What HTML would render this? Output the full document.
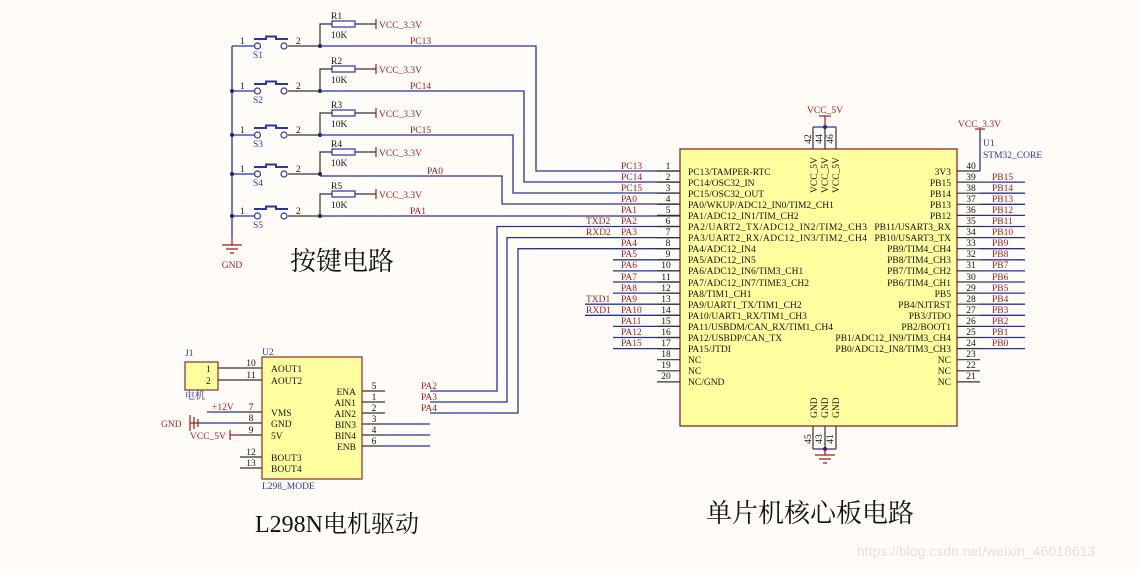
<!DOCTYPE html>
<html><head><meta charset="utf-8"><style>
html,body{margin:0;padding:0;background:#fffcf7;}
svg{display:block}
text{font-family:"Liberation Serif","Noto Serif CJK SC",serif;font-size:9.5px;}
.r{fill:#9b1c1c}.b{fill:#2a36a0}.k{fill:#111}
.nb{stroke:#24339c;stroke-width:1.3;fill:none}
.nk{stroke:#333;stroke-width:1.2;fill:none}
.nr{stroke:#9b1c1c;stroke-width:1.2;fill:none}
.end{text-anchor:end}.mid{text-anchor:middle}
</style></head><body>
<svg width="1138" height="569" viewBox="0 0 1138 569" xmlns="http://www.w3.org/2000/svg">
<line class="nb" x1="232" y1="46" x2="232" y2="236"/>
<g>
<line class="nb" x1="232" y1="46" x2="254" y2="46"/><line class="nk" x1="288" y1="46" x2="320" y2="46"/>
<circle cx="257.5" cy="46" r="3" fill="none" stroke="#2a36a0" stroke-width="1.2"/><circle cx="284" cy="46" r="3" fill="none" stroke="#2a36a0" stroke-width="1.2"/>
<path d="M254 39H266V36.5H276V39H288" stroke="#2a36a0" stroke-width="2" fill="none"/>
<text x="240" y="44" class="k">1</text><text x="296" y="44" class="k">2</text><text x="253" y="58" class="b">S1</text>
<path class="nk" d="M320 46V24H332M355 24H376"/><rect x="332" y="21" width="23" height="6" fill="none" stroke="#2a36a0" stroke-width="1.2"/>
<line class="nr" x1="376" y1="19" x2="376" y2="29"/><text x="379" y="28" class="r">VCC_3.3V</text>
<text x="331" y="19" class="k">R1</text><text x="331" y="38" class="k">10K</text>
<circle cx="320" cy="46" r="2" fill="#1a237e"/>
<line class="nb" x1="232" y1="91" x2="254" y2="91"/><line class="nk" x1="288" y1="91" x2="320" y2="91"/>
<circle cx="257.5" cy="91" r="3" fill="none" stroke="#2a36a0" stroke-width="1.2"/><circle cx="284" cy="91" r="3" fill="none" stroke="#2a36a0" stroke-width="1.2"/>
<path d="M254 84H266V81.5H276V84H288" stroke="#2a36a0" stroke-width="2" fill="none"/>
<text x="240" y="89" class="k">1</text><text x="296" y="89" class="k">2</text><text x="253" y="103" class="b">S2</text>
<path class="nk" d="M320 91V69H332M355 69H376"/><rect x="332" y="66" width="23" height="6" fill="none" stroke="#2a36a0" stroke-width="1.2"/>
<line class="nr" x1="376" y1="64" x2="376" y2="74"/><text x="379" y="73" class="r">VCC_3.3V</text>
<text x="331" y="64" class="k">R2</text><text x="331" y="83" class="k">10K</text>
<circle cx="320" cy="91" r="2" fill="#1a237e"/><circle cx="232" cy="91" r="2" fill="#1a237e"/>
<line class="nb" x1="232" y1="135" x2="254" y2="135"/><line class="nk" x1="288" y1="135" x2="320" y2="135"/>
<circle cx="257.5" cy="135" r="3" fill="none" stroke="#2a36a0" stroke-width="1.2"/><circle cx="284" cy="135" r="3" fill="none" stroke="#2a36a0" stroke-width="1.2"/>
<path d="M254 128H266V125.5H276V128H288" stroke="#2a36a0" stroke-width="2" fill="none"/>
<text x="240" y="133" class="k">1</text><text x="296" y="133" class="k">2</text><text x="253" y="147" class="b">S3</text>
<path class="nk" d="M320 135V113H332M355 113H376"/><rect x="332" y="110" width="23" height="6" fill="none" stroke="#2a36a0" stroke-width="1.2"/>
<line class="nr" x1="376" y1="108" x2="376" y2="118"/><text x="379" y="117" class="r">VCC_3.3V</text>
<text x="331" y="108" class="k">R3</text><text x="331" y="127" class="k">10K</text>
<circle cx="320" cy="135" r="2" fill="#1a237e"/><circle cx="232" cy="135" r="2" fill="#1a237e"/>
<line class="nb" x1="232" y1="174" x2="254" y2="174"/><line class="nk" x1="288" y1="174" x2="320" y2="174"/>
<circle cx="257.5" cy="174" r="3" fill="none" stroke="#2a36a0" stroke-width="1.2"/><circle cx="284" cy="174" r="3" fill="none" stroke="#2a36a0" stroke-width="1.2"/>
<path d="M254 167H266V164.5H276V167H288" stroke="#2a36a0" stroke-width="2" fill="none"/>
<text x="240" y="172" class="k">1</text><text x="296" y="172" class="k">2</text><text x="253" y="186" class="b">S4</text>
<path class="nk" d="M320 174V152H332M355 152H376"/><rect x="332" y="149" width="23" height="6" fill="none" stroke="#2a36a0" stroke-width="1.2"/>
<line class="nr" x1="376" y1="147" x2="376" y2="157"/><text x="379" y="156" class="r">VCC_3.3V</text>
<text x="331" y="147" class="k">R4</text><text x="331" y="166" class="k">10K</text>
<circle cx="320" cy="174" r="2" fill="#1a237e"/><circle cx="232" cy="174" r="2" fill="#1a237e"/>
<line class="nb" x1="232" y1="216" x2="254" y2="216"/><line class="nk" x1="288" y1="216" x2="320" y2="216"/>
<circle cx="257.5" cy="216" r="3" fill="none" stroke="#2a36a0" stroke-width="1.2"/><circle cx="284" cy="216" r="3" fill="none" stroke="#2a36a0" stroke-width="1.2"/>
<path d="M254 209H266V206.5H276V209H288" stroke="#2a36a0" stroke-width="2" fill="none"/>
<text x="240" y="214" class="k">1</text><text x="296" y="214" class="k">2</text><text x="253" y="228" class="b">S5</text>
<path class="nk" d="M320 216V194H332M355 194H376"/><rect x="332" y="191" width="23" height="6" fill="none" stroke="#2a36a0" stroke-width="1.2"/>
<line class="nr" x1="376" y1="189" x2="376" y2="199"/><text x="379" y="198" class="r">VCC_3.3V</text>
<text x="331" y="189" class="k">R5</text><text x="331" y="208" class="k">10K</text>
<circle cx="320" cy="216" r="2" fill="#1a237e"/><circle cx="232" cy="216" r="2" fill="#1a237e"/>
</g>
<path class="nr" d="M232 236V245M222 245H242M226 249H238M230 253H234"/>
<text x="232" y="268" class="r mid">GND</text>
<text x="290" y="270" style="font-size:26px;font-family:'Noto Serif CJK SC',serif" class="k">按键电路</text>

<path class="nb" d="M320 46H536V171H680"/>
<path class="nb" d="M320 91H524V182H680"/>
<path class="nb" d="M320 135H513V193H680"/>
<path class="nb" d="M320 176H502V204H680"/>
<path class="nb" d="M320 216H680"/>
<text x="410" y="44" class="r">PC13</text><text x="410" y="89" class="r">PC14</text><text x="410" y="133" class="r">PC15</text><text x="427" y="174" class="r">PA0</text><text x="410" y="214" class="r">PA1</text>
<path class="nb" d="M430 391H497V226.5H680"/>
<path class="nb" d="M430 402H507V237.6H680"/>
<path class="nb" d="M430 413H518V248.7H680"/>

<rect x="680" y="149" width="277" height="277" fill="#ffffa0" stroke="#8b2a2a" stroke-width="1.3"/>
<path class="nb" d="M613 259.8H680M613 270.9H680M613 282H680M613 293.1H680M585 304.2H680M585 315.3H680M613 326.4H680M613 337.5H680M613 348.6H680"/>
<path class="nk" d="M657 171H680M657 182.1H680M657 193.2H680M657 204.3H680M657 215.4H680M657 226.5H680M657 237.6H680M657 248.7H680M657 259.8H680M657 270.9H680M657 282H680M657 293.1H680M657 304.2H680M657 315.3H680M657 326.4H680M657 337.5H680M657 348.6H680M657 359.7H680M657 370.8H680M657 381.9H680"/>
<g class="k">
<text x="668" y="169" class="mid">1</text><text x="668" y="180" class="mid">2</text><text x="668" y="191" class="mid">3</text><text x="668" y="202" class="mid">4</text><text x="668" y="213" class="mid">5</text><text x="668" y="224" class="mid">6</text><text x="668" y="235" class="mid">7</text><text x="668" y="246" class="mid">8</text><text x="668" y="257" class="mid">9</text><text x="666" y="268" class="mid">10</text><text x="666" y="280" class="mid">11</text><text x="666" y="291" class="mid">12</text><text x="666" y="302" class="mid">13</text><text x="666" y="313" class="mid">14</text><text x="666" y="324" class="mid">15</text><text x="666" y="335" class="mid">16</text><text x="666" y="346" class="mid">17</text><text x="666" y="357" class="mid">18</text><text x="666" y="368" class="mid">19</text><text x="666" y="379" class="mid">20</text>
</g>
<g class="r">
<text x="621" y="169">PC13</text><text x="621" y="180">PC14</text><text x="621" y="191">PC15</text><text x="621" y="202">PA0</text><text x="621" y="213">PA1</text><text x="621" y="224">PA2</text><text x="621" y="235">PA3</text><text x="621" y="246">PA4</text><text x="621" y="257">PA5</text><text x="621" y="268">PA6</text><text x="621" y="280">PA7</text><text x="621" y="291">PA8</text><text x="621" y="302">PA9</text><text x="621" y="313">PA10</text><text x="621" y="324">PA11</text><text x="621" y="335">PA12</text><text x="621" y="346">PA15</text>
<text x="586" y="224">TXD2</text><text x="586" y="235">RXD2</text><text x="586" y="302">TXD1</text><text x="586" y="313">RXD1</text>
</g>
<g class="k">
<text x="688" y="175">PC13/TAMPER-RTC</text><text x="688" y="186">PC14/OSC32_IN</text><text x="688" y="197">PC15/OSC32_OUT</text><text x="688" y="208">PA0/WKUP/ADC12_IN0/TIM2_CH1</text><text x="688" y="219">PA1/ADC12_IN1/TIM_CH2</text><text x="688" y="230" textLength="179">PA2/UART2_TX/ADC12_IN2/TIM2_CH3</text><text x="688" y="241" textLength="179">PA3/UART2_RX/ADC12_IN3/TIM2_CH4</text><text x="688" y="252">PA4/ADC12_IN4</text><text x="688" y="263">PA5/ADC12_IN5</text><text x="688" y="274">PA6/ADC12_IN6/TIM3_CH1</text><text x="688" y="286">PA7/ADC12_IN7/TIME3_CH2</text><text x="688" y="297">PA8/TIM1_CH1</text><text x="688" y="308">PA9/UART1_TX/TIM1_CH2</text><text x="688" y="319">PA10/UART1_RX/TIM1_CH3</text><text x="688" y="330">PA11/USBDM/CAN_RX/TIM1_CH4</text><text x="688" y="341">PA12/USBDP/CAN_TX</text><text x="688" y="352">PA15/JTDI</text><text x="688" y="363">NC</text><text x="688" y="374">NC</text><text x="688" y="385">NC/GND</text>
</g>
<g class="k end">
<text x="951" y="175">3V3</text><text x="951" y="186">PB15</text><text x="951" y="197">PB14</text><text x="951" y="208">PB13</text><text x="951" y="219">PB12</text><text x="951" y="230">PB11/USART3_RX</text><text x="951" y="241">PB10/USART3_TX</text><text x="951" y="252">PB9/TIM4_CH4</text><text x="951" y="263">PB8/TIM4_CH3</text><text x="951" y="274">PB7/TIM4_CH2</text><text x="951" y="286">PB6/TIM4_CH1</text><text x="951" y="297">PB5</text><text x="951" y="308">PB4/NJTRST</text><text x="951" y="319">PB3/JTDO</text><text x="951" y="330">PB2/BOOT1</text><text x="951" y="341">PB1/ADC12_IN9/TIM3_CH4</text><text x="951" y="352">PB0/ADC12_IN8/TIM3_CH3</text><text x="951" y="363">NC</text><text x="951" y="374">NC</text><text x="951" y="385">NC</text>
</g>
<path class="nk" d="M957 171H980M957 182.1H980M957 193.2H980M957 204.3H980M957 215.4H980M957 226.5H980M957 237.6H980M957 248.7H980M957 259.8H980M957 270.9H980M957 282H980M957 293.1H980M957 304.2H980M957 315.3H980M957 326.4H980M957 337.5H980M957 348.6H980M957 359.7H980M957 370.8H980M957 381.9H980"/>
<path class="nb" d="M980 182.1H1025M980 193.2H1025M980 204.3H1025M980 215.4H1025M980 226.5H1025M980 237.6H1025M980 248.7H1025M980 259.8H1025M980 270.9H1025M980 282H1025M980 293.1H1025M980 304.2H1025M980 315.3H1025M980 326.4H1025M980 337.5H1025M980 348.6H1025"/>
<path class="nb" d="M980 171V129"/>
<line class="nr" x1="975" y1="129" x2="985" y2="129"/>
<text x="958" y="127" class="r">VCC_3.3V</text>
<text x="983" y="146" class="b">U1</text><text x="983" y="158" class="b">STM32_CORE</text>
<g class="k">
<text x="971" y="169" class="mid">40</text><text x="971" y="180" class="mid">39</text><text x="971" y="191" class="mid">38</text><text x="971" y="202" class="mid">37</text><text x="971" y="213" class="mid">36</text><text x="971" y="224" class="mid">35</text><text x="971" y="235" class="mid">34</text><text x="971" y="246" class="mid">33</text><text x="971" y="257" class="mid">32</text><text x="971" y="268" class="mid">31</text><text x="971" y="280" class="mid">30</text><text x="971" y="291" class="mid">29</text><text x="971" y="302" class="mid">28</text><text x="971" y="313" class="mid">27</text><text x="971" y="324" class="mid">26</text><text x="971" y="335" class="mid">25</text><text x="971" y="346" class="mid">24</text><text x="971" y="357" class="mid">23</text><text x="971" y="368" class="mid">22</text><text x="971" y="379" class="mid">21</text>
</g>
<g class="r">
<text x="992" y="180">PB15</text><text x="992" y="191">PB14</text><text x="992" y="202">PB13</text><text x="992" y="213">PB12</text><text x="992" y="224">PB11</text><text x="992" y="235">PB10</text><text x="992" y="246">PB9</text><text x="992" y="257">PB8</text><text x="992" y="268">PB7</text><text x="992" y="280">PB6</text><text x="992" y="291">PB5</text><text x="992" y="302">PB4</text><text x="992" y="313">PB3</text><text x="992" y="324">PB2</text><text x="992" y="335">PB1</text><text x="992" y="346">PB0</text>
</g>
<path class="nk" d="M813 127V149M825 127V149M836 127V149"/>
<path class="nb" d="M813 127H836"/>
<circle cx="825" cy="127" r="2" fill="#1a237e"/>
<line class="nr" x1="825" y1="127" x2="825" y2="116"/>
<line class="nr" x1="819" y1="116" x2="831" y2="116"/>
<text x="825" y="113" class="r mid">VCC_5V</text>
<g class="k">
<text transform="translate(811,139) rotate(-90)" class="mid">42</text>
<text transform="translate(822,139) rotate(-90)" class="mid">44</text>
<text transform="translate(833,139) rotate(-90)" class="mid">46</text>
<text transform="translate(817,193) rotate(-90)">VCC_5V</text>
<text transform="translate(828,193) rotate(-90)">VCC_5V</text>
<text transform="translate(839,193) rotate(-90)">VCC_5V</text>
<text transform="translate(817,418) rotate(-90)">GND</text>
<text transform="translate(828,418) rotate(-90)">GND</text>
<text transform="translate(839,418) rotate(-90)">GND</text>
<text transform="translate(811,439) rotate(-90)" class="mid">45</text>
<text transform="translate(822,439) rotate(-90)" class="mid">43</text>
<text transform="translate(833,439) rotate(-90)" class="mid">41</text>
</g>
<path class="nk" d="M813 426V449M825 426V449M836 426V449"/>
<path class="nb" d="M813 449H836"/>
<circle cx="825" cy="449" r="2" fill="#1a237e"/>
<path class="nr" d="M825 449V455M815 455H835M819 459H831M823 463H827"/>
<text x="706" y="522" style="font-size:26px;font-family:'Noto Serif CJK SC',serif" class="k">单片机核心板电路</text>

<rect x="262" y="357" width="100" height="122" fill="#ffffa0" stroke="#8b2a2a" stroke-width="1.2"/>
<text x="262" y="355" class="b">U2</text>
<text x="262" y="489" class="b">L298_MODE</text>
<rect x="185" y="362" width="33" height="28" fill="#ffffa0" stroke="#8b2a2a" stroke-width="1.2"/>
<text x="185" y="356" class="b">J1</text>
<text x="185" y="399" class="b" style="font-family:'Noto Serif CJK SC',serif;font-size:10px">电机</text>
<text x="206" y="372" class="k">1</text><text x="206" y="384" class="k">2</text>
<path class="nk" d="M218 368H262M218 380H262M240 412H262M240 423H262M240 435H262M240 457H262M240 468H262"/>
<g class="k">
<text x="251" y="366" class="mid">10</text><text x="251" y="378" class="mid">11</text><text x="251" y="410" class="mid">7</text><text x="251" y="421" class="mid">8</text><text x="251" y="433" class="mid">9</text><text x="251" y="455" class="mid">12</text><text x="251" y="466" class="mid">13</text>
<text x="271" y="372">AOUT1</text><text x="271" y="384">AOUT2</text><text x="271" y="416">VMS</text><text x="271" y="427">GND</text><text x="271" y="439">5V</text><text x="271" y="461">BOUT3</text><text x="271" y="472">BOUT4</text>
<text x="356" y="395" class="end">ENA</text><text x="356" y="406" class="end">AIN1</text><text x="356" y="417" class="end">AIN2</text><text x="356" y="428" class="end">BIN3</text><text x="356" y="439" class="end">BIN4</text><text x="356" y="450" class="end">ENB</text>
<text x="374" y="389" class="mid">5</text><text x="374" y="400" class="mid">1</text><text x="374" y="411" class="mid">2</text><text x="374" y="422" class="mid">3</text><text x="374" y="433" class="mid">4</text><text x="374" y="444" class="mid">6</text>
</g>
<path class="nk" d="M362 391H385M362 402H385M362 413H385M362 424H385M362 435H385M362 446H385"/>
<path class="nb" d="M385 424H430M385 435H430M385 446H430"/>
<text x="421" y="389" class="r">PA2</text><text x="421" y="400" class="r">PA3</text><text x="421" y="411" class="r">PA4</text>
<path class="nb" d="M207 412H240M196 423H240"/>
<text x="212" y="410" class="r">+12V</text>
<path class="nr" d="M196 423H190M190 415V431M194 417V429M198 419V427"/>
<text x="161" y="427" class="r">GND</text>
<path class="nr" d="M230 435H240M230 430V440"/>
<text x="190" y="439" class="r">VCC_5V</text>
<text x="255" y="532" style="font-size:24px;font-family:'Liberation Serif','Noto Serif CJK SC',serif" class="k">L298N电机驱动</text>

<text x="857" y="556" style="font-family:'Liberation Sans',sans-serif;font-size:14px;fill:#e4e0dc">https://blog.csdn.net/weixin_46018613</text>
</svg>
</body></html>
